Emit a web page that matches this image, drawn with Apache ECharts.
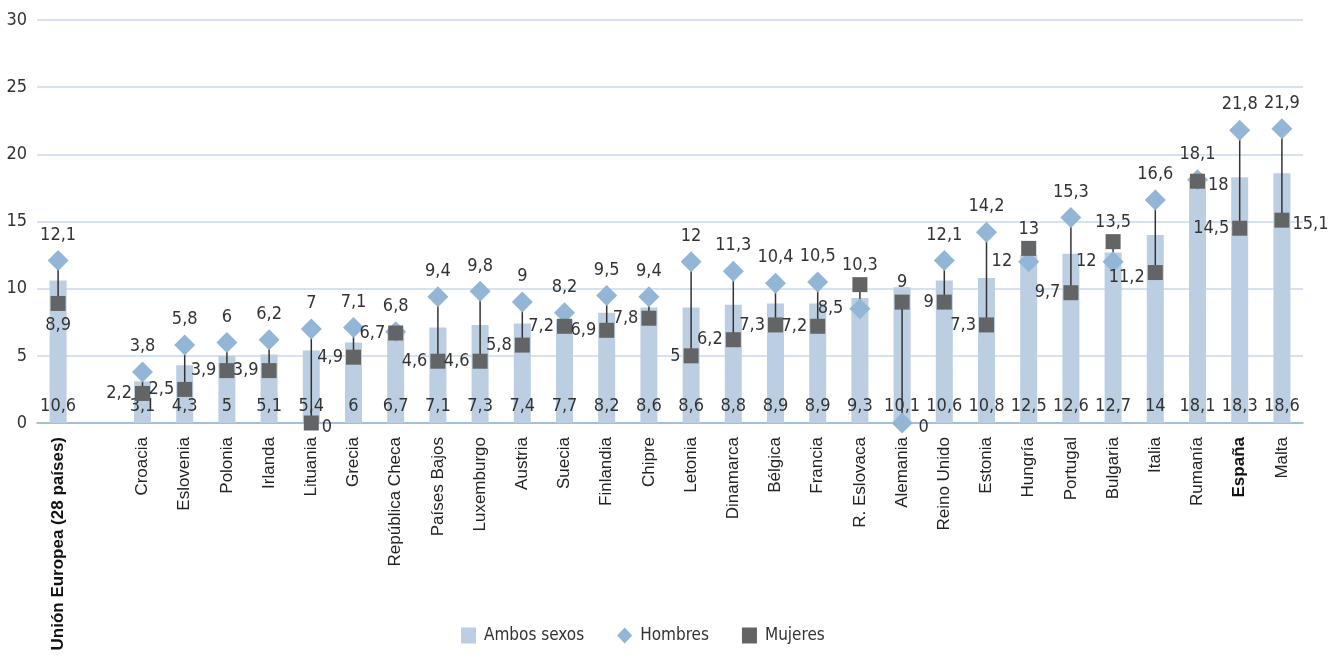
<!DOCTYPE html>
<html>
<head>
<meta charset="utf-8">
<script src="https://cdn.jsdelivr.net/npm/echarts@6/dist/echarts.min.js"></script>
<style>
  html, body { margin: 0; padding: 0; background: #fff; }
  #chart { width: 1340px; height: 661px; }
</style>
</head>
<body>
<div id="chart"></div>
<script>
// categorias (el hueco tras la UE es una categoría vacía)
const categories = ['Unión Europea (28 países)', '', 'Croacia', 'Eslovenia', 'Polonia', 'Irlanda', 'Lituania',
  'Grecia', 'República Checa', 'Países Bajos', 'Luxemburgo', 'Austria', 'Suecia', 'Finlandia', 'Chipre',
  'Letonia', 'Dinamarca', 'Bélgica', 'Francia', 'R. Eslovaca', 'Alemania', 'Reino Unido', 'Estonia',
  'Hungría', 'Portugal', 'Bulgaria', 'Italia', 'Rumanía', 'España', 'Malta'];

const ambos = [10.6, null, 3.1, 4.3, 5, 5.1, 5.4, 6, 6.7, 7.1, 7.3, 7.4, 7.7, 8.2, 8.6,
  8.6, 8.8, 8.9, 8.9, 9.3, 10.1, 10.6, 10.8, 12.5, 12.6, 12.7, 14, 18.1, 18.3, 18.6];

const hombres = [12.1, null, 3.8, 5.8, 6, 6.2, 7, 7.1, 6.8, 9.4, 9.8, 9, 8.2, 9.5, 9.4,
  12, 11.3, 10.4, 10.5, 8.5, 0, 12.1, 14.2, 12, 15.3, 12, 16.6, 18.1, 21.8, 21.9];

const mujeres = [8.9, null, 2.2, 2.5, 3.9, 3.9, 0, 4.9, 6.7, 4.6, 4.6, 5.8, 7.2, 6.9, 7.8,
  5, 6.2, 7.3, 7.2, 10.3, 9, 9, 7.3, 13, 9.7, 13.5, 11.2, 18, 14.5, 15.1];

const yTicks = [0, 5, 10, 15, 20, 25, 30];

// posiciones de etiqueta que cambian respecto a la general
const posHombres = { 'Alemania': 'right', 'R. Eslovaca': 'left', 'Hungría': 'left', 'Bulgaria': 'left' };
const posMujeres = {
  'Unión Europea (28 países)': 'bottom', 'Lituania': 'right', 'Alemania': 'top', 'R. Eslovaca': 'top',
  'Hungría': 'top', 'Bulgaria': 'top', 'Rumanía': 'right', 'Malta': 'right'
};

const numFont = "'Liberation Sans Narrow', 'DejaVu Sans Condensed', sans-serif";
const txtFont = "'Liberation Sans', Arial, sans-serif";
const fmt = v => String(v).replace('.', ',');

const chart = echarts.init(document.getElementById('chart'));

const hData = hombres.map((v, i) => {
  if (v === null) return '-';
  const p = posHombres[categories[i]];
  return p ? { value: v, label: { position: p, offset: p === 'right' ? [0, 4] : [0, 0] } } : v;
});
const mData = mujeres.map((v, i) => {
  if (v === null) return '-';
  const p = posMujeres[categories[i]] || 'left';
  let off = [0, 0];
  if (p === 'right') off = [0, 4];
  if (p === 'bottom') off = [0, 2];
  if (categories[i] === 'Italia') off = [0, 5];
  return { value: v, label: { position: p, offset: off } };
});
const rangeData = categories.map((c, i) => hombres[i] === null ? null : [i, hombres[i], mujeres[i]]).filter(d => d);

const option = {
  animation: false,
  grid: { left: 37, right: 37, top: 20, bottom: 238 },
  legend: {
    data: [
      { name: 'Ambos sexos', icon: 'rect' },
      { name: 'Hombres', icon: 'diamond' },
      { name: 'Mujeres', icon: 'rect' }
    ],
    bottom: 12,
    left: 456,
    itemGap: 33,
    itemWidth: 15,
    itemHeight: 16,
    textStyle: { fontFamily: numFont, fontSize: 17, color: '#333', padding: [0, 0, 0, 3] }
  },
  xAxis: {
    type: 'category',
    data: categories,
    axisTick: { show: false },
    axisLine: { lineStyle: { color: '#92b4d5', width: 1.5 } },
    axisLabel: {
      interval: 0,
      rotate: 90,
      margin: 14,
      fontFamily: txtFont,
      fontSize: 17,
      color: '#222',
      formatter: v => (v === 'Unión Europea (28 países)' || v === 'España') ? '{b|' + v + '}' : v,
      rich: { b: { fontWeight: 'bold', fontSize: 17, fontFamily: txtFont, color: '#111' } }
    }
  },
  yAxis: {
    type: 'value',
    min: yTicks[0],
    max: yTicks[yTicks.length - 1],
    interval: 5,
    axisLine: { show: false },
    axisTick: { show: false },
    axisLabel: { margin: 10, fontFamily: numFont, fontSize: 18, color: '#333' },
    splitLine: { lineStyle: { color: '#c8d9ea', width: 1.5 } }
  },
  series: [
    {
      name: 'Ambos sexos',
      type: 'bar',
      data: ambos.map(v => v === null ? '-' : v),
      barWidth: 17,
      itemStyle: { color: '#bccfe2' },
      label: {
        show: true,
        position: 'insideBottom',
        distance: 8,
        formatter: p => fmt(p.value),
        fontFamily: numFont, fontSize: 18, color: '#333'
      },
      z: 1
    },
    {
      name: 'rango',
      type: 'custom',
      data: rangeData,
      encode: { x: 0, y: [1, 2] },
      renderItem: (params, api) => {
        const a = api.coord([api.value(0), api.value(1)]);
        const b = api.coord([api.value(0), api.value(2)]);
        return {
          type: 'line',
          shape: { x1: a[0], y1: a[1], x2: b[0], y2: b[1] },
          style: { stroke: '#333', lineWidth: 1.5 }
        };
      },
      silent: true,
      z: 2
    },
    {
      name: 'Hombres',
      type: 'scatter',
      data: hData,
      symbol: 'diamond',
      symbolSize: 21,
      itemStyle: { color: '#93b5d6', opacity: 1 },
      label: {
        show: true,
        position: 'top',
        distance: 6,
        formatter: p => fmt(p.value),
        fontFamily: numFont, fontSize: 18, color: '#333'
      },
      z: 3
    },
    {
      name: 'Mujeres',
      type: 'scatter',
      data: mData,
      symbol: 'rect',
      symbolSize: 15,
      itemStyle: { color: '#636466', opacity: 1 },
      label: {
        show: true,
        position: 'left',
        distance: 3,
        formatter: p => fmt(p.value),
        fontFamily: numFont, fontSize: 18, color: '#333'
      },
      z: 4
    }
  ]
};

chart.setOption(option);
</script>
</body>
</html>
